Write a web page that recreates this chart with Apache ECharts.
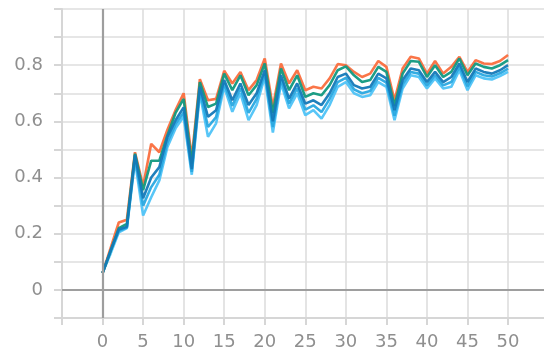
<!DOCTYPE html>
<html>
<head>
<meta charset="utf-8">
<script src="https://cdn.jsdelivr.net/npm/echarts@6/dist/echarts.min.js"></script>
<style>
  html, body { margin: 0; padding: 0; background: #fff; }
  #chart { width: 544px; height: 353px; }
</style>
</head>
<body>
<div id="chart"></div>
<script>
// Training steps 0..50
const steps = Array.from({ length: 51 }, (_, i) => i);

// Accuracy curves for five runs
const runOrange = [0.06, 0.15, 0.24, 0.25, 0.49, 0.37, 0.52, 0.49, 0.57, 0.64, 0.70,
  0.47, 0.75, 0.675, 0.68, 0.78, 0.735, 0.776, 0.711, 0.747, 0.824,
  0.65, 0.806, 0.735, 0.782, 0.711, 0.723, 0.717, 0.753, 0.804, 0.80,
  0.776, 0.758, 0.77, 0.815, 0.794, 0.675, 0.788, 0.83, 0.824, 0.77,
  0.815, 0.77, 0.794, 0.83, 0.776, 0.818, 0.806, 0.804, 0.815, 0.836];
const runGreen = [0.06, 0.14, 0.22, 0.235, 0.485, 0.355, 0.46, 0.46, 0.55, 0.63, 0.68,
  0.45, 0.74, 0.651, 0.663, 0.77, 0.711, 0.764, 0.693, 0.729, 0.806,
  0.63, 0.788, 0.711, 0.764, 0.687, 0.70, 0.693, 0.729, 0.782, 0.796,
  0.764, 0.74, 0.747, 0.794, 0.776, 0.655, 0.77, 0.815, 0.812, 0.758,
  0.80, 0.758, 0.776, 0.824, 0.764, 0.806, 0.794, 0.788, 0.80, 0.818];
const runDark = [0.06, 0.14, 0.215, 0.225, 0.48, 0.326, 0.40, 0.437, 0.545, 0.604, 0.65,
  0.43, 0.723, 0.616, 0.64, 0.747, 0.675, 0.735, 0.658, 0.70, 0.782,
  0.60, 0.764, 0.681, 0.735, 0.663, 0.675, 0.658, 0.70, 0.758, 0.77,
  0.729, 0.717, 0.723, 0.77, 0.753, 0.64, 0.747, 0.788, 0.782, 0.74,
  0.776, 0.74, 0.758, 0.806, 0.74, 0.788, 0.776, 0.77, 0.782, 0.80];
const runBlue = [0.06, 0.14, 0.21, 0.222, 0.47, 0.30, 0.366, 0.41, 0.525, 0.59, 0.632,
  0.42, 0.71, 0.58, 0.615, 0.735, 0.655, 0.718, 0.63, 0.68, 0.77,
  0.58, 0.75, 0.663, 0.718, 0.642, 0.657, 0.633, 0.68, 0.74, 0.755,
  0.714, 0.70, 0.708, 0.755, 0.738, 0.62, 0.732, 0.776, 0.77, 0.728,
  0.764, 0.728, 0.74, 0.794, 0.725, 0.776, 0.764, 0.76, 0.771, 0.788];
const runLight = [0.06, 0.13, 0.205, 0.22, 0.46, 0.265, 0.33, 0.39, 0.509, 0.575, 0.617,
  0.41, 0.70, 0.545, 0.593, 0.723, 0.634, 0.70, 0.604, 0.658, 0.758,
  0.56, 0.735, 0.646, 0.70, 0.622, 0.64, 0.61, 0.658, 0.723, 0.74,
  0.70, 0.687, 0.693, 0.74, 0.723, 0.604, 0.717, 0.764, 0.758, 0.717,
  0.753, 0.717, 0.723, 0.782, 0.711, 0.764, 0.753, 0.749, 0.761, 0.776];

// Axis tick values that carry a label
const xTickLabels = [0, 5, 10, 15, 20, 25, 30, 35, 40, 45, 50];
const yTickLabels = [0, 0.2, 0.4, 0.6, 0.8];

const runs = [
  { name: 'run-light', data: runLight, color: '#4fc3f7' },
  { name: 'run-blue', data: runBlue, color: '#29a8e0' },
  { name: 'run-orange', data: runOrange, color: '#fa6e3e' },
  { name: 'run-green', data: runGreen, color: '#11997f' },
  { name: 'run-dark', data: runDark, color: '#1479b8' }
];

const chart = echarts.init(document.getElementById('chart'), null, { renderer: 'canvas' });

const labelStyle = {
  color: '#8f8f8f',
  fontFamily: 'DejaVu Sans',
  fontSize: 18
};

const series = runs.map((r) => ({
  name: r.name,
  type: 'line',
  data: steps.map((s, i) => [s, r.data[i]]),
  showSymbol: false,
  symbol: 'none',
  lineStyle: { color: r.color, width: 2.6, opacity: 0.95 },
  itemStyle: { color: r.color },
  z: 3,
  animation: false
}));

// Dark reference lines through the origin
series.push({
  type: 'line',
  data: [],
  silent: true,
  z: 2,
  markLine: {
    silent: true,
    symbol: 'none',
    label: { show: false },
    animation: false,
    lineStyle: { color: '#9e9e9e', width: 2.2, type: 'solid' },
    data: [{ yAxis: 0 }, { xAxis: 0 }]
  }
});

chart.setOption({
  animation: false,
  backgroundColor: '#ffffff',
  // the x range runs slightly past the right edge of the canvas
  grid: { left: 62, right: -4.6, top: 9, bottom: 35, containLabel: false, outerBoundsMode: 'none' },
  xAxis: {
    type: 'value',
    min: -5,
    max: 55,
    interval: 5,
    axisLine: { show: true, onZero: false, lineStyle: { color: '#d6d6d6', width: 2 } },
    axisTick: { show: true, length: 7, lineStyle: { color: '#d6d6d6', width: 2 } },
    splitLine: { show: true, lineStyle: { color: '#dedede', width: 1.6 } },
    axisLabel: Object.assign({}, labelStyle, {
      margin: 15,
      formatter: (v) => (xTickLabels.includes(Math.round(v)) && Math.abs(v - Math.round(v)) < 1e-6 ? String(Math.round(v)) : '')
    })
  },
  yAxis: {
    type: 'value',
    min: -0.1,
    max: 1.0,
    interval: 0.1,
    axisLine: { show: true, onZero: false, lineStyle: { color: '#d6d6d6', width: 2 } },
    axisTick: { show: true, length: 8, lineStyle: { color: '#d6d6d6', width: 2 } },
    splitLine: { show: true, lineStyle: { color: '#dedede', width: 1.6 } },
    axisLabel: Object.assign({}, labelStyle, {
      margin: 19,
      formatter: (v) => {
        const t = Math.round(v * 10) / 10;
        return yTickLabels.some((y) => Math.abs(y - t) < 1e-6) ? String(t) : '';
      }
    })
  },
  series: series
});
</script>
</body>
</html>
